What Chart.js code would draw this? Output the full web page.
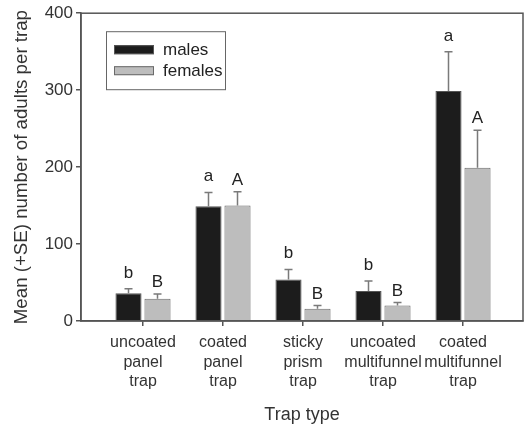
<!DOCTYPE html>
<html>
<head>
<meta charset="utf-8">
<script src="https://cdn.jsdelivr.net/npm/chart.js@4"></script>
<style>
  html, body { margin: 0; padding: 0; background: #fff; }
  #wrap { width: 527px; height: 429px; }
</style>
</head>
<body>
<div id="wrap"><canvas id="trapChart"></canvas></div>
<script>
const trapTypes = [
  ['uncoated', 'panel', 'trap'],
  ['coated', 'panel', 'trap'],
  ['sticky', 'prism', 'trap'],
  ['uncoated', 'multifunnel', 'trap'],
  ['coated', 'multifunnel', 'trap']
];
const males = [36, 149, 54, 39, 299];
const malesSE = [6, 18, 13, 13, 51];
const malesLetters = ['b', 'a', 'b', 'b', 'a'];
const females = [29, 150, 16, 20, 199];
const femalesSE = [6, 18, 4, 4, 49];
const femalesLetters = ['B', 'A', 'B', 'B', 'A'];
const yTicks = [0, 100, 200, 300, 400];

const FONT = 'Liberation Sans, Arial, sans-serif';

// error bars + significance letters
const errorBarPlugin = {
  id: 'errorBars',
  afterDatasetsDraw(chart) {
    const { ctx } = chart;
    const y = chart.scales.y;
    chart.data.datasets.forEach((ds, di) => {
      const meta = chart.getDatasetMeta(di);
      meta.data.forEach((bar, i) => {
        const top = y.getPixelForValue(ds.data[i].y + ds.se[i]);
        ctx.save();
        ctx.strokeStyle = '#7a7a7a';
        ctx.lineWidth = 1.5;
        ctx.beginPath();
        ctx.moveTo(bar.x, bar.y);
        ctx.lineTo(bar.x, top);
        ctx.moveTo(bar.x - 4, top);
        ctx.lineTo(bar.x + 4, top);
        ctx.stroke();
        ctx.fillStyle = '#222';
        ctx.font = '17px ' + FONT;
        ctx.textAlign = 'center';
        ctx.textBaseline = 'alphabetic';
        ctx.fillText(ds.letters[i], bar.x, top - ds.letterGap);
        ctx.restore();
      });
    });
  }
};

// frame around plot area and boxed legend inside it
const framePlugin = {
  id: 'frame',
  afterDraw(chart) {
    const { ctx, chartArea: a } = chart;
    ctx.save();
    ctx.strokeStyle = '#555';
    ctx.lineWidth = 1.5;
    ctx.strokeRect(a.left, a.top, a.right - a.left, a.bottom - a.top);

    const bx = a.left + 25, by = a.top + 18;
    ctx.lineWidth = 1;
    ctx.strokeStyle = '#666';
    ctx.strokeRect(bx + 0.5, by + 0.5, 119, 58);
    ctx.font = '17px ' + FONT;
    ctx.textBaseline = 'middle';
    chart.data.datasets.forEach((ds, i) => {
      const sy = by + 14 + i * 21;
      ctx.fillStyle = ds.backgroundColor;
      ctx.fillRect(bx + 8, sy, 40, 9);
      ctx.strokeStyle = ds.borderColor;
      ctx.strokeRect(bx + 8.5, sy + 0.5, 39, 8);
      ctx.fillStyle = '#222';
      ctx.fillText(ds.label, bx + 57, sy + 5);
    });
    ctx.restore();
  }
};

const ctx = document.getElementById('trapChart').getContext('2d');
new Chart(ctx, {
  type: 'bar',
  data: {
    datasets: [{
      label: 'males',
      data: males.map((v, i) => ({ x: i, y: v })),
      se: malesSE,
      letters: malesLetters,
      letterGap: 11,
      backgroundColor: '#1c1c1c',
      borderColor: '#555555',
      borderWidth: 1
    }, {
      label: 'females',
      data: females.map((v, i) => ({ x: i, y: v })),
      se: femalesSE,
      letters: femalesLetters,
      letterGap: 7,
      backgroundColor: '#bdbdbd',
      borderColor: '#6a6a6a',
      borderWidth: 1
    }]
  },
  options: {
    animation: false,
    responsive: true,
    maintainAspectRatio: false,
    categoryPercentage: 0.725,
    barPercentage: 0.9,
    layout: { padding: { top: 13, right: 4, left: 0, bottom: 0 } },
    plugins: {
      legend: { display: false },
      tooltip: { enabled: false }
    },
    scales: {
      x: {
        type: 'linear',
        bounds: 'data',
        offset: false,
        min: -0.775,
        max: 4.75,
        afterBuildTicks: (scale) => {
          scale.ticks = trapTypes.map((t, i) => ({ value: i }));
        },
        afterFit: (scale) => { scale.height = 108; },
        grid: { offset: false, drawOnChartArea: false, tickLength: 5, color: '#555', lineWidth: 1.5 },
        border: { display: true, color: '#555', width: 1.5 },
        ticks: {
          padding: 7,
          color: '#333',
          font: { family: FONT, size: 16, lineHeight: 1.22 },
          maxRotation: 0,
          autoSkip: false,
          callback: (value) => trapTypes[value]
        },
        title: {
          display: true,
          text: 'Trap type',
          color: '#333',
          font: { family: FONT, size: 18 },
          padding: { top: 0, bottom: 3 }
        }
      },
      y: {
        min: 0,
        max: 400,
        afterBuildTicks: (scale) => {
          scale.ticks = yTicks.map(v => ({ value: v }));
        },
        afterFit: (scale) => { scale.width = 81; },
        grid: { drawOnChartArea: false, tickLength: 5, color: '#555', lineWidth: 1.5 },
        border: { display: true, color: '#555', width: 1.5 },
        ticks: {
          padding: 3,
          color: '#333',
          font: { family: FONT, size: 17 }
        },
        title: {
          display: true,
          text: 'Mean (+SE) number of adults per trap',
          color: '#333',
          font: { family: FONT, size: 18.7 },
          padding: { top: 11, bottom: 0 }
        }
      }
    }
  },
  plugins: [errorBarPlugin, framePlugin]
});
</script>
</body>
</html>
